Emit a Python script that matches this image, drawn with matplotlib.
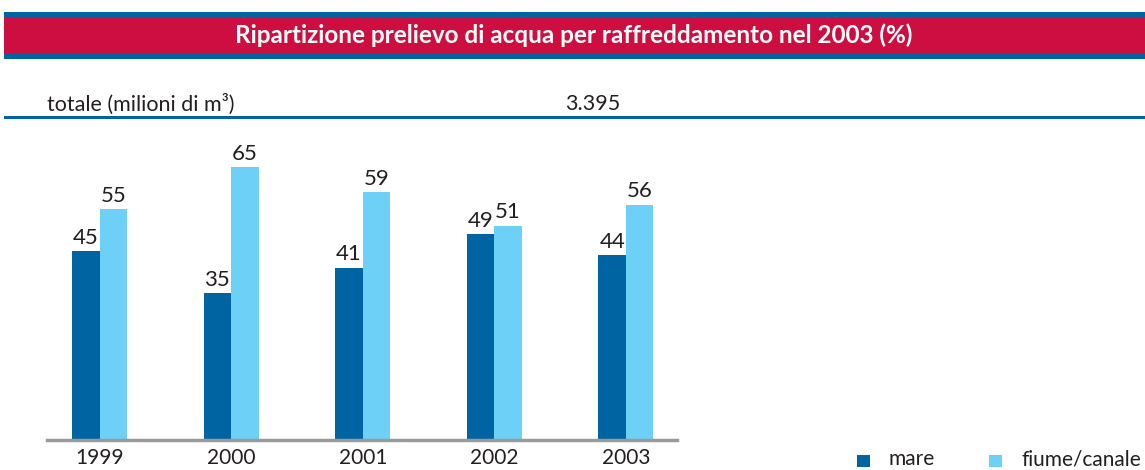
import matplotlib
matplotlib.use("Agg")
import matplotlib.pyplot as plt
from matplotlib.patches import Rectangle

years = ["1999", "2000", "2001", "2002", "2003"]
mare = [45, 35, 41, 49, 44]
fiume = [55, 65, 59, 51, 56]
series_names = ["mare", "fiume/canale"]
title = "Ripartizione prelievo di acqua per raffreddamento nel 2003 (%)"
totale_label = "totale (milioni di m³)"
totale_value = "3.395"

DARK = "#0064A3"
LIGHT = "#6DD0F7"
RED = "#CC0F40"
GRAY = "#9A9A9A"
TXT = "#231F20"
FONT = ["Lato", "DejaVu Sans"]

W, H = 1145, 470
fig = plt.figure(figsize=(W / 100, H / 100), dpi=100)

def fx(x): return x / W
def fy(y): return 1 - y / H

# title bar
fig.patches.append(Rectangle((fx(4), fy(59)), fx(1141), 47 / H, transform=fig.transFigure,
                             facecolor=DARK, edgecolor="none"))
fig.patches.append(Rectangle((fx(4), fy(53)), fx(1141), 36 / H, transform=fig.transFigure,
                             facecolor=RED, edgecolor="none"))
fig.text(fx(574), fy(35), title, color="white", fontsize=17.5, fontweight="bold",
         ha="center", va="center", family=FONT)

# totale row
fig.text(fx(47), fy(104), totale_label, color=TXT, fontsize=15.5, ha="left", va="center", family=FONT)
fig.text(fx(565), fy(104), totale_value, color=TXT, fontsize=15.5, ha="left", va="center", family=FONT)
fig.patches.append(Rectangle((fx(4), fy(119)), fx(1141), 3 / H, transform=fig.transFigure,
                             facecolor=DARK, edgecolor="none"))

# bars
ax = fig.add_axes([fx(47), fy(440), fx(677) - fx(47), (440 - 130) / H])
ppu = 4.2
ax.set_ylim(0, 310 / ppu)
spacing = 131.6
ax.set_xlim(-(99.5 - 47) / spacing, 4 + (677 - 626) / spacing)
bw = 27.5 / spacing
xs = list(range(len(years)))
ax.bar([x - bw / 2 for x in xs], mare, width=bw, color=DARK, label=series_names[0])
ax.bar([x + bw / 2 for x in xs], fiume, width=bw, color=LIGHT, label=series_names[1])
for x, m, f in zip(xs, mare, fiume):
    ax.text(x - bw / 2, m + 0.8, str(m), ha="center", va="bottom", fontsize=16, color=TXT, family=FONT)
    ax.text(x + bw / 2, f + 0.8, str(f), ha="center", va="bottom", fontsize=16, color=TXT, family=FONT)
for s in ["top", "right", "left"]:
    ax.spines[s].set_visible(False)
ax.spines["bottom"].set_color(GRAY)
ax.spines["bottom"].set_linewidth(2.5)
ax.set_yticks([])
ax.set_xticks(xs)
ax.set_xticklabels(years, fontsize=15, color=TXT, family=FONT)
ax.tick_params(axis="x", length=0, pad=6)

# legend
for (x0, name, col) in [(857, series_names[0], DARK), (989, series_names[1], LIGHT)]:
    fig.patches.append(Rectangle((fx(x0), fy(467)), 13 / W, 12 / H, transform=fig.transFigure,
                                 facecolor=col, edgecolor="none"))
    fig.text(fx(x0 + 32), fy(459), name, color=TXT, fontsize=15, ha="left", va="center", family=FONT)

fig.savefig("out.png", dpi=100)
